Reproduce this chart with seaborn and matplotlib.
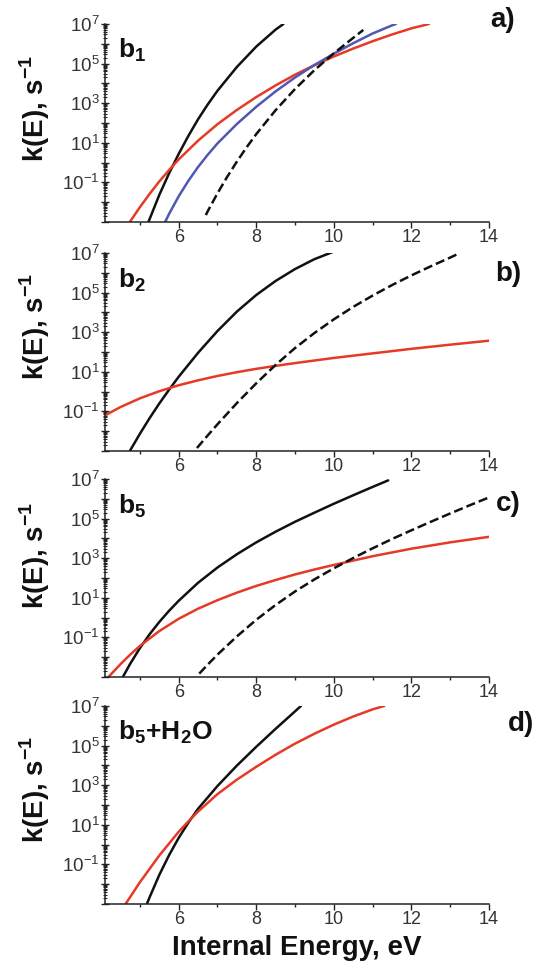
import numpy as np
import pandas as pd
import matplotlib
matplotlib.use("Agg")
import matplotlib.pyplot as plt
import seaborn as sns
from matplotlib.ticker import LogLocator, FuncFormatter, MultipleLocator, NullFormatter

# ---------------- data: internal energy (eV) vs log10 k(E) (s^-1) ----------------
# panel a) b1
A_BLACK_E = [5.22, 5.5, 5.75, 6.0, 6.25, 6.5, 6.75, 7.0, 7.5, 8.0, 8.5, 8.7]
A_BLACK_LOGK = [-3.0, -1.63, -0.55, 0.44, 1.35, 2.19, 2.94, 3.63, 4.83, 5.86, 6.72, 7.0]
A_RED_E = [4.74, 5.0, 5.25, 5.5, 5.75, 6.0, 6.5, 7.0, 7.5, 8.0, 8.5, 9.0, 9.5, 10.0,
           10.5, 11.0, 11.5, 12.0, 12.45]
A_RED_LOGK = [-3.0, -2.25, -1.58, -0.95, -0.38, 0.16, 1.11, 1.94, 2.66, 3.31, 3.9, 4.44,
              4.92, 5.36, 5.76, 6.13, 6.47, 6.78, 7.0]
A_BLUE_E = [5.65, 5.75, 6.0, 6.25, 6.5, 6.75, 7.0, 7.5, 8.0, 8.5, 9.0, 9.5, 10.0, 10.5,
            11.0, 11.5, 11.6]
A_BLUE_LOGK = [-3.0, -2.6, -1.7, -0.92, -0.22, 0.4, 0.97, 1.95, 2.82, 3.6, 4.3, 4.93,
               5.5, 6.03, 6.52, 6.93, 7.0]
A_DASH_E = [6.7, 6.75, 7.0, 7.25, 7.5, 7.75, 8.0, 8.5, 9.0, 9.5, 10.0, 10.5, 10.76]
A_DASH_LOGK = [-2.65, -2.45, -1.55, -0.72, 0.05, 0.77, 1.44, 2.65, 3.72, 4.67, 5.52, 6.3, 6.7]

# panel b) b2
B_BLACK_E = [4.74, 5.0, 5.25, 5.5, 5.75, 6.0, 6.5, 7.0, 7.5, 8.0, 8.5, 9.0, 9.5, 9.97]
B_BLACK_LOGK = [-3.0, -2.13, -1.34, -0.6, 0.09, 0.75, 1.96, 3.06, 4.04, 4.88, 5.59, 6.19,
                6.69, 7.05]
B_RED_E = [4.1, 4.5, 5.0, 5.5, 6.0, 6.5, 7.0, 7.5, 8.0, 8.5, 9.0, 10.0, 11.0, 12.0, 13.0, 14.0]
B_RED_LOGK = [-1.2, -0.78, -0.34, 0.02, 0.32, 0.57, 0.79, 0.98, 1.15, 1.3, 1.44, 1.7,
              1.93, 2.16, 2.37, 2.57]
B_DASH_E = [6.47, 6.75, 7.0, 7.5, 8.0, 8.5, 9.0, 9.5, 10.0, 10.5, 11.0, 11.5, 12.0,
            12.5, 13.0, 13.25]
B_DASH_LOGK = [-2.85, -2.21, -1.65, -0.58, 0.42, 1.35, 2.2, 2.96, 3.65, 4.28, 4.85, 5.38,
               5.87, 6.33, 6.77, 7.0]

# panel c) b5
C_BLACK_E = [4.56, 4.75, 5.0, 5.25, 5.5, 5.75, 6.0, 6.5, 7.0, 7.5, 8.0, 8.5, 9.0, 9.5,
             10.0, 10.5, 11.0, 11.4]
C_BLACK_LOGK = [-3.0, -2.33, -1.54, -0.84, -0.22, 0.34, 0.85, 1.76, 2.53, 3.2, 3.8, 4.34,
                4.84, 5.3, 5.75, 6.18, 6.6, 6.93]
C_RED_E = [4.19, 4.5, 4.75, 5.0, 5.5, 6.0, 6.5, 7.0, 7.5, 8.0, 8.5, 9.0, 9.5, 10.0, 11.0,
           12.0, 13.0, 14.0]
C_RED_LOGK = [-3.0, -2.35, -1.87, -1.43, -0.68, -0.06, 0.45, 0.88, 1.26, 1.6, 1.9, 2.18,
              2.43, 2.66, 3.1, 3.48, 3.8, 4.08]
C_DASH_E = [6.53, 6.75, 7.0, 7.5, 8.0, 8.5, 9.0, 9.5, 10.0, 10.5, 11.0, 11.5, 12.0, 12.5,
            13.0, 13.5, 14.0]
C_DASH_LOGK = [-2.83, -2.37, -1.87, -0.95, -0.11, 0.64, 1.32, 1.93, 2.49, 3.01, 3.5, 3.97,
               4.41, 4.84, 5.26, 5.67, 6.07]

# panel d) b5+H2O
D_BLACK_E = [5.18, 5.25, 5.5, 5.75, 6.0, 6.25, 6.5, 7.0, 7.5, 8.0, 8.5, 9.0, 9.15]
D_BLACK_LOGK = [-3.0, -2.66, -1.53, -0.54, 0.34, 1.11, 1.81, 2.96, 3.99, 4.94, 5.85, 6.73, 7.0]
D_RED_E = [4.63, 5.0, 5.5, 6.0, 6.32, 6.5, 7.0, 7.5, 8.0, 8.5, 9.0, 9.5, 10.0, 10.5, 11.0, 11.3]
D_RED_LOGK = [-3.0, -1.9, -0.55, 0.65, 1.32, 1.67, 2.55, 3.28, 3.93, 4.54, 5.1, 5.6, 6.06,
              6.47, 6.83, 7.0]

PANEL_TAGS = ["a)", "b)", "c)", "d)"]
SPECIES = [r"b$_\mathbf{1}$", r"b$_\mathbf{2}$", r"b$_\mathbf{5}$", r"b$_\mathbf{5}$+H$_\mathbf{2}$O"]
X_TICKS = [6, 8, 10, 12, 14]

BLACK = "#111111"
RED = "#e63a26"
BLUE = "#5257b0"

panels = [
    [(A_BLACK_E, A_BLACK_LOGK, BLACK, "-"), (A_RED_E, A_RED_LOGK, RED, "-"),
     (A_BLUE_E, A_BLUE_LOGK, BLUE, "-"), (A_DASH_E, A_DASH_LOGK, BLACK, "--")],
    [(B_BLACK_E, B_BLACK_LOGK, BLACK, "-"), (B_RED_E, B_RED_LOGK, RED, "-"),
     (B_DASH_E, B_DASH_LOGK, BLACK, "--")],
    [(C_BLACK_E, C_BLACK_LOGK, BLACK, "-"), (C_RED_E, C_RED_LOGK, RED, "-"),
     (C_DASH_E, C_DASH_LOGK, BLACK, "--")],
    [(D_BLACK_E, D_BLACK_LOGK, BLACK, "-"), (D_RED_E, D_RED_LOGK, RED, "-")],
]

# ---------------- style ----------------
sns.set_theme(style="ticks")
plt.rcParams["font.family"] = ["Liberation Sans", "DejaVu Sans"]
plt.rcParams["mathtext.fontset"] = "custom"
plt.rcParams["mathtext.rm"] = "Liberation Sans"
plt.rcParams["mathtext.bf"] = "Liberation Sans:bold"
plt.rcParams["axes.linewidth"] = 1.1
plt.rcParams["axes.edgecolor"] = "#222222"
plt.rcParams["lines.solid_capstyle"] = "round"

W, H = 535, 965
fig = plt.figure(figsize=(W / 100, H / 100), dpi=100)
fig.patch.set_facecolor("white")

AX_LEFT, AX_WIDTH, AX_HEIGHT = 105, 384, 198
AX_TOPS = [24, 253, 479, 706]
YLABEL_Y = [108, 326, 555, 789]
TAG_POS = [(503, 20), (508, 274), (508, 504), (521, 724)]


def log_label(val, pos):
    if val <= 0:
        return ""
    e = int(round(np.log10(val)))
    if e >= -1 and e % 2 == 1:
        return r"$\mathregular{10^{%d}}$" % e
    return ""


for i, curves in enumerate(panels):
    top = AX_TOPS[i]
    ax = fig.add_axes([AX_LEFT / W, 1 - (top + AX_HEIGHT) / H, AX_WIDTH / W, AX_HEIGHT / H])
    ax.set_facecolor("white")
    for e_vals, logk, color, ls in curves:
        df = pd.DataFrame({"E": e_vals, "k": np.power(10.0, logk)})
        sns.lineplot(data=df, x="E", y="k", ax=ax, color=color, linestyle=ls,
                     linewidth=1.8, sort=False, estimator=None, legend=False,
                     **({"dashes": (4, 3)} if ls == "--" else {}))
    ax.set_yscale("log")
    ax.set_xlim(4.1, 14)
    ax.set_ylim(1e-3, 1e7)
    ax.set_xlabel("")
    ax.set_ylabel("")
    sns.despine(ax=ax)

    ax.xaxis.set_minor_locator(MultipleLocator(1))
    ax.set_xticks(X_TICKS)
    ax.set_xticklabels([str(t) for t in X_TICKS])
    ax.yaxis.set_major_locator(LogLocator(base=10, numticks=20))
    ax.yaxis.set_major_formatter(FuncFormatter(log_label))
    ax.yaxis.set_minor_locator(LogLocator(base=10, subs=np.arange(2, 10), numticks=20))
    ax.yaxis.set_minor_formatter(NullFormatter())

    ax.tick_params(axis="x", which="major", direction="out", length=4, width=1.0,
                   labelsize=13, labelcolor="#333333", pad=1, color="#222222")
    ax.tick_params(axis="x", which="minor", direction="out", length=2.5, width=1.0, color="#222222")
    ax.tick_params(axis="y", which="major", direction="inout", length=6, width=1.0,
                   labelsize=13.5, labelcolor="#333333", pad=1, color="#222222")
    ax.tick_params(axis="y", which="minor", direction="inout", length=3, width=0.8, color="#222222")

    ax.text((118 - AX_LEFT) / AX_WIDTH, 1 - 34 / AX_HEIGHT, SPECIES[i], transform=ax.transAxes,
            fontsize=19, fontweight="bold", ha="left", va="baseline", color="#111111")

    fig.text(35 / W, 1 - YLABEL_Y[i] / H, r"k(E), s$^\mathbf{-1}$", rotation=90,
             fontsize=20, fontweight="bold", ha="center", va="center", color="#111111")
    tx, ty = TAG_POS[i]
    fig.text(tx / W, 1 - ty / H, PANEL_TAGS[i], fontsize=20, fontweight="bold",
             ha="center", va="center", color="#111111")

fig.text(297 / W, 1 - 948 / H, "Internal Energy, eV", fontsize=20, fontweight="bold",
         ha="center", va="center", color="#111111")

fig.savefig("out.png", dpi=100, facecolor="white")
